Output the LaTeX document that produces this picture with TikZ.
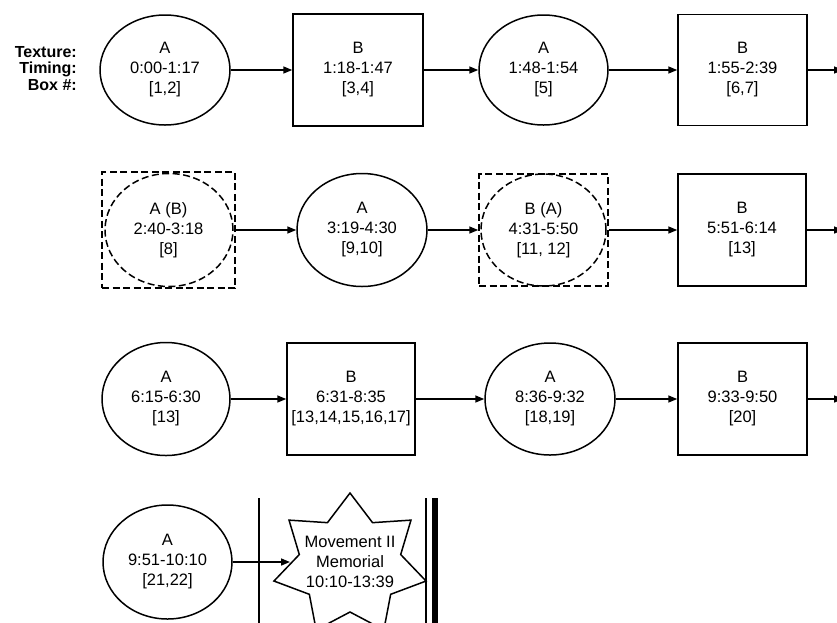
\documentclass[tikz,border=0pt]{standalone}
\usepackage{fontspec}
\setmainfont{Liberation Sans}
\usetikzlibrary{shapes.geometric,arrows.meta}
\begin{document}
\begin{tikzpicture}[x=1pt,y=-1pt,
  txt/.style={font=\fontsize{16.5}{20}\selectfont, align=center, inner sep=0pt},
  oval/.style={txt, draw, ellipse, line width=1.5pt},
  boxnode/.style={txt, draw, rectangle, line width=1.5pt},
  dbox/.style={txt, draw, rectangle, line width=1.5pt, dash pattern=on 7pt off 3.5pt},
  dring/.style={draw, ellipse, line width=1.5pt, dash pattern=on 7pt off 3.5pt, inner sep=0pt},
  flow/.style={-{Triangle[length=9pt,width=7pt]}, line width=1.5pt},
  bar/.style={line width=1.5pt},
  heavybar/.style={line width=6pt}
]
\useasboundingbox (0,0) rectangle (837,622);
\fill[white] (0,0) rectangle (837,622);
\clip (0,0) rectangle (837,622);

% labels
\node[font=\bfseries\fontsize{16}{16.5}\selectfont, align=right, anchor=east, inner sep=0pt] (lab) at (77,68.5) {Texture:\\Timing:\\Box \#:};

% row 1
\node[oval, minimum width=130pt, minimum height=110pt] (e1) at (165,70) {A\\0:00-1:17\\{[1,2]}};
\node[boxnode, minimum width=130pt, minimum height=112pt] (b1) at (358,70) {B\\1:18-1:47\\{[3,4]}};
\node[oval, minimum width=129pt, minimum height=110pt] (e2) at (543.5,70) {A\\1:48-1:54\\{[5]}};
\node[boxnode, minimum width=129pt, minimum height=111pt] (b2) at (742.5,70) {B\\1:55-2:39\\{[6,7]}};
\coordinate (o1) at (843,70);
\draw[flow] (e1) -- (b1);
\draw[flow] (b1) -- (e2);
\draw[flow] (e2) -- (b2);
\draw[flow] (b2) -- (o1);

% row 2
\node[dbox, minimum width=133pt, minimum height=116pt] (d1) at (168.5,230) {A (B)\\2:40-3:18\\{[8]}};
\node[dring, minimum width=128pt, minimum height=113pt] (r1) at (169,230) {};
\node[oval, minimum width=130pt, minimum height=113pt] (e3) at (362,230) {A\\3:19-4:30\\{[9,10]}};
\node[dbox, minimum width=129pt, minimum height=112pt] (d2) at (543.5,230) {B (A)\\4:31-5:50\\{[11, 12]}};
\node[dring, minimum width=125pt, minimum height=112pt] (r2) at (543.5,230) {};
\node[boxnode, minimum width=128pt, minimum height=112pt] (b3) at (742,230) {B\\5:51-6:14\\{[13]}};
\coordinate (o2) at (843,230);
\draw[flow] (d1) -- (e3);
\draw[flow] (e3) -- (d2);
\draw[flow] (d2) -- (b3);
\draw[flow] (b3) -- (o2);

% row 3
\node[oval, minimum width=128pt, minimum height=113pt] (e5) at (166,399) {A\\6:15-6:30\\{[13]}};
\node[boxnode, minimum width=128pt, minimum height=112pt] (b4) at (351,399) {B\\6:31-8:35\\{[13,14,15,16,17]}};
\node[oval, minimum width=130pt, minimum height=112pt] (e6) at (550,399) {A\\8:36-9:32\\{[18,19]}};
\node[boxnode, minimum width=129pt, minimum height=112pt] (b5) at (742.5,399) {B\\9:33-9:50\\{[20]}};
\coordinate (o3) at (843,399);
\draw[flow] (e5) -- (b4);
\draw[flow] (b4) -- (e6);
\draw[flow] (e6) -- (b5);
\draw[flow] (b5) -- (o3);

% row 4
\node[oval, minimum width=129pt, minimum height=114pt] (e7) at (167.5,562) {A\\9:51-10:10\\{[21,22]}};
\draw[line width=1.5pt, line join=miter]
  (350,493) -- (372.56,522.65) -- (410.98,520.11) -- (400.69,554.54)
  -- (426.04,581.02) -- (390.65,594.30) -- (383.84,629.87) -- (350,612)
  -- (316.16,629.87) -- (309.35,594.30) -- (273.96,581.02) -- (299.31,554.54)
  -- (289.02,520.11) -- (327.44,522.65) -- cycle;
\node[txt] (mv) at (350,562) {Movement II\\Memorial\\10:10-13:39};
\coordinate (sw) at (290,562);
\draw[flow] (e7) -- (sw);

\coordinate (lt) at (259,498);
\coordinate (lb) at (259,630);
\coordinate (rt) at (426,498);
\coordinate (rb) at (426,630);
\coordinate (ht) at (435,498);
\coordinate (hb) at (435,630);
\draw[bar] (lt) -- (lb);
\draw[bar] (rt) -- (rb);
\draw[heavybar] (ht) -- (hb);
\end{tikzpicture}
\end{document}
